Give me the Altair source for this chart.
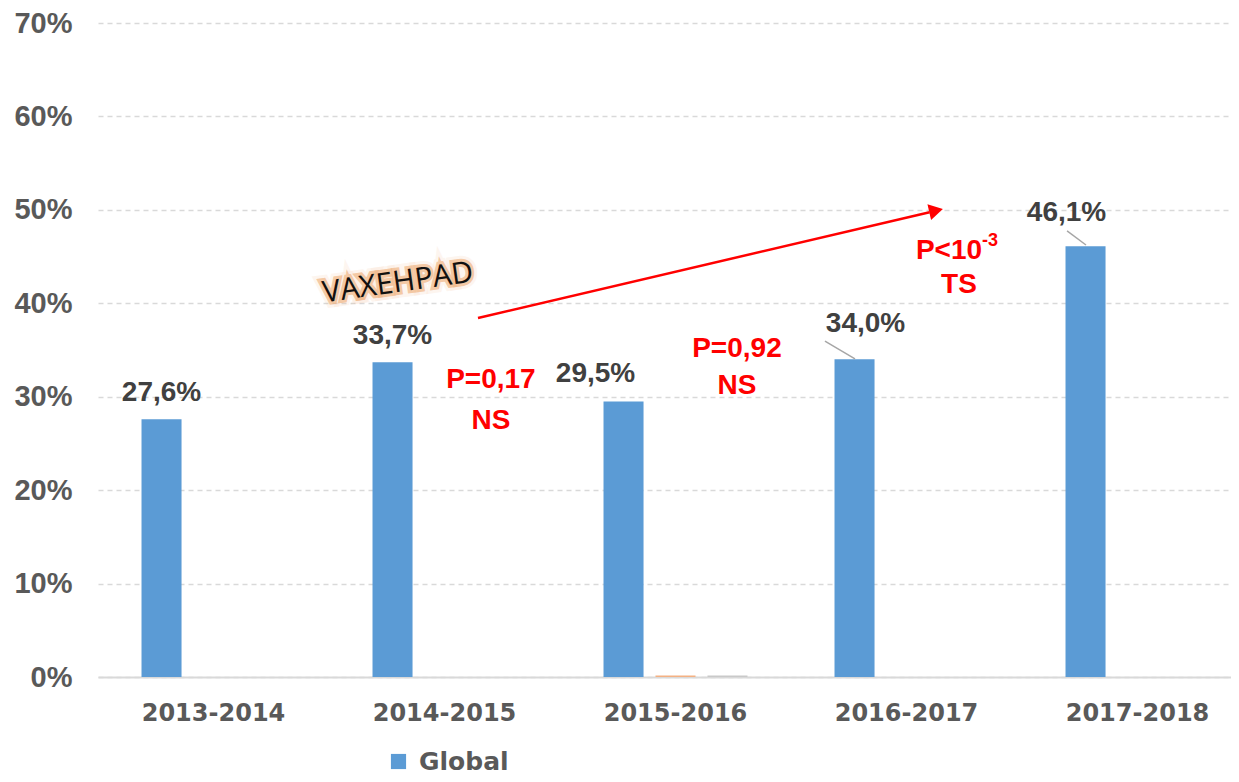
import altair as alt
import pandas as pd

years = ["2013-2014", "2014-2015", "2015-2016", "2016-2017", "2017-2018"]
series = ["Global", "Série 2", "Série 3"]
global_vals = [0.276, 0.337, 0.295, 0.340, 0.461]
serie2_vals = [0.0, 0.0, 0.0015, 0.0, 0.0]
serie3_vals = [0.0, 0.0, 0.0015, 0.0, 0.0]
global_labels = ["27,6%", "33,7%", "29,5%", "34,0%", "46,1%"]
colors = ["#5B9BD5", "#F4B183", "#C9C9C9"]

rows = []
for i, y in enumerate(years):
    rows.append({"year": y, "serie": "Global", "value": global_vals[i], "label": global_labels[i]})
    rows.append({"year": y, "serie": "Série 2", "value": serie2_vals[i], "label": ""})
    rows.append({"year": y, "serie": "Série 3", "value": serie3_vals[i], "label": ""})
df = pd.DataFrame(rows)

# annotation texts (x in category-index units, y in value units)
p_texts = ["P=0,17", "NS", "P=0,92", "NS", "P<10", "TS"]
p_x = [1.701, 1.701, 2.766, 2.766, 3.684, 3.727]
p_y = [0.3175, 0.2737, 0.3510, 0.3115, 0.4560, 0.4195]
sup_text = ["-3"]
sup_x = [3.861]
sup_y = [0.4668]
arrow_x = [1.645]
arrow_y = [0.3842]
arrow_x2 = [3.600]
arrow_y2 = [0.4975]
head_x = [3.628]
head_y = [0.4993]
leader_x = [3.147, 4.195]
leader_y = [0.3596, 0.4774]
leader_x2 = [3.277, 4.277]
leader_y2 = [0.3405, 0.4624]
logo_text = ["VAXEHPAD"]
logo_x = [1.2987]
logo_y = [0.4217]

X_RANGE = [0, 1155]

xband = alt.X("year:N", sort=years,
              scale=alt.Scale(range=X_RANGE, paddingInner=0.325, paddingOuter=0.1625),
              axis=alt.Axis(title=None, labelFont="DejaVu Sans", labelFontWeight="bold",
                            labelFontSize=24, labelColor="#595959", labelAngle=0,
                            domainColor="#D9D9D9", domainWidth=2, ticks=False,
                            grid=False, labelPadding=24))
xoff = alt.XOffset("serie:N", sort=series,
                   scale=alt.Scale(domain=series, paddingInner=0.23, paddingOuter=0.115))
yq = alt.Y("value:Q",
           scale=alt.Scale(domain=[0, 0.7], nice=False),
           axis=alt.Axis(title=None, format=".0%", values=[0, 0.1, 0.2, 0.3, 0.4, 0.5, 0.6, 0.7],
                         labelFont="Liberation Sans", labelFontWeight="bold", labelFontSize=29,
                         labelColor="#595959", domain=False, ticks=False, grid=True,
                         gridColor="#D9D9D9", gridDash=[5, 4], gridWidth=1.3,
                         labelPadding=26))

base = alt.Chart(df)

bars = base.mark_bar().encode(
    x=xband, xOffset=xoff, y=yq,
    color=alt.Color("serie:N", sort=series,
                    scale=alt.Scale(domain=series, range=colors),
                    legend=alt.Legend(title=None, values=["Global"], orient="none",
                                      legendX=288, legendY=726, symbolType="square",
                                      symbolSize=230, symbolStrokeWidth=0,
                                      labelFont="DejaVu Sans", labelFontWeight="bold",
                                      labelFontSize=25, labelColor="#595959",
                                      labelOffset=8, padding=0)),
)

lbl_style = dict(font="Liberation Sans", fontWeight="bold", fontSize=28, color="#404040",
                 baseline="alphabetic", align="center")

def lbl(years_sel, dx, dy):
    return base.transform_filter(
        alt.FieldOneOfPredicate(field="year", oneOf=years_sel)
    ).transform_filter(alt.datum.serie == "Global").mark_text(dx=dx, dy=dy, **lbl_style).encode(
        x=alt.X("year:N", sort=years), xOffset=alt.XOffset("serie:N", sort=series),
        y=yq, text="label:N")

labels1 = lbl(["2013-2014", "2014-2015"], 0, -18)
labels2 = lbl(["2015-2016"], -28, -19)
labels3 = lbl(["2016-2017"], 11, -27)
labels4 = lbl(["2017-2018"], -19, -25)

xq_scale = alt.Scale(domain=[0, 5], range=X_RANGE, nice=False, zero=False)
XQ = alt.X("x:Q", scale=xq_scale, axis=None)

ann_p = alt.Chart(pd.DataFrame({"t": p_texts, "x": p_x, "value": p_y})).mark_text(
    font="Liberation Sans", fontWeight="bold", fontSize=28, color="#FF0000",
    baseline="middle", align="center").encode(x=XQ, y=yq, text="t:N")

ann_sup = alt.Chart(pd.DataFrame({"t": sup_text, "x": sup_x, "value": sup_y})).mark_text(
    font="Liberation Sans", fontWeight="bold", fontSize=18, color="#FF0000",
    baseline="middle", align="center").encode(x=XQ, y=yq, text="t:N")

arrow = alt.Chart(pd.DataFrame({"x": arrow_x, "value": arrow_y, "x2": arrow_x2, "y2": arrow_y2})).mark_rule(
    color="#FF0000", strokeWidth=2.5).encode(x=XQ, y=yq, x2="x2:Q", y2="y2:Q")

head = alt.Chart(pd.DataFrame({"x": head_x, "value": head_y})).mark_point(
    shape="triangle-right", size=260, filled=True, color="#FF0000", opacity=1, angle=347).encode(
    x=XQ, y=yq)

leaders = alt.Chart(pd.DataFrame({"x": leader_x, "value": leader_y, "x2": leader_x2, "y2": leader_y2})).mark_rule(
    color="#A6A6A6", strokeWidth=1.5).encode(x=XQ, y=yq, x2="x2:Q", y2="y2:Q")

logo_df = pd.DataFrame({"t": logo_text, "x": logo_x, "value": logo_y})
logo_glow1 = alt.Chart(logo_df).mark_text(
    font="Open Sans", fontSize=30, angle=352, align="center", baseline="middle",
    color="#F4B183", stroke="#F4B183", strokeWidth=12, opacity=0.35, strokeOpacity=0.35).encode(
    x=XQ, y=yq, text="t:N")
logo_glow2 = alt.Chart(logo_df).mark_text(
    font="Open Sans", fontSize=30, angle=352, align="center", baseline="middle",
    color="#F4B183", stroke="#EFB07A", strokeWidth=6, opacity=0.8, strokeOpacity=0.8).encode(
    x=XQ, y=yq, text="t:N")
logo = alt.Chart(logo_df).mark_text(
    font="Open Sans", fontSize=30, angle=352, align="center", baseline="middle",
    color="#111111").encode(x=XQ, y=yq, text="t:N")

main = alt.layer(bars, labels1, labels2, labels3, labels4)
ann = alt.layer(leaders, arrow, head, ann_p, ann_sup, logo_glow1, logo_glow2, logo)

chart = alt.layer(main, ann).resolve_scale(x="independent").properties(
    width=1133, height=654,
    padding={"left": 90, "top": 15, "right": 0, "bottom": 97},
    autosize=alt.AutoSizeParams(type="none"),
).configure(background="white", view=alt.ViewConfig(stroke=None))

chart.save("out.html", embed_options={"renderer": "svg", "actions": False})
